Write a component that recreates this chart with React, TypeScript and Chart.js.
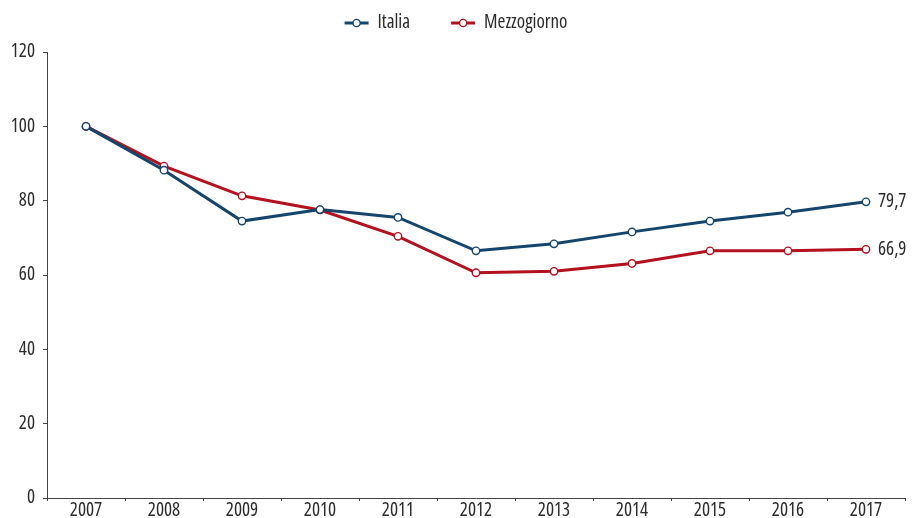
import React, { useEffect, useRef } from "react";
import { Chart, registerables } from "chart.js";

Chart.register(...registerables);

const years = ["2007", "2008", "2009", "2010", "2011", "2012", "2013", "2014", "2015", "2016", "2017"];
const italia = [100, 88.2, 74.5, 77.6, 75.5, 66.5, 68.4, 71.6, 74.5, 76.9, 79.7];
const mezzogiorno = [100, 89.3, 81.3, 77.5, 70.4, 60.6, 61.0, 63.1, 66.5, 66.5, 66.9];
const seriesNames = ["Italia", "Mezzogiorno"];
const endLabels = ["79,7", "66,9"];

const FAMILY = "'Open Sans', 'Roboto Condensed', sans-serif";
const STRETCH = "condensed";
const FS = 19;
const BLUE = "#14456c";
const RED = "#b3111d";
const TEXT = "#2b2b2b";
const AXIS = "#444444";

const endLabelPlugin = {
  id: "endLabels",
  afterDatasetsDraw(chart: any) {
    const ctx = chart.ctx;
    ctx.save();
    ctx.font = `${STRETCH} ${FS}px ${FAMILY}`;
    ctx.fillStyle = TEXT;
    ctx.textAlign = "left";
    ctx.textBaseline = "middle";
    chart.data.datasets.forEach((_ds: any, i: number) => {
      const meta = chart.getDatasetMeta(i);
      const pt = meta.data[meta.data.length - 1];
      if (pt) ctx.fillText(endLabels[i], pt.x + 12, pt.y);
    });
    ctx.restore();
  },
};

const customLegend = {
  id: "customLegend",
  afterDraw(chart: any) {
    const ctx = chart.ctx;
    ctx.save();
    ctx.font = `${STRETCH} ${FS}px ${FAMILY}`;
    ctx.textBaseline = "middle";
    ctx.textAlign = "left";
    const iconW = 24;
    const iconGap = 9;
    const itemGap = 41;
    const widths = seriesNames.map((n) => ctx.measureText(n).width);
    const total = widths.reduce((a, w) => a + iconW + iconGap + w, 0) + itemGap * (seriesNames.length - 1);
    let x = chart.width / 2 - total / 2 - 3;
    const y = 23;
    chart.data.datasets.forEach((ds: any, i: number) => {
      const color = ds.borderColor;
      ctx.strokeStyle = color;
      ctx.lineWidth = 3;
      ctx.beginPath();
      ctx.moveTo(x, y);
      ctx.lineTo(x + iconW, y);
      ctx.stroke();
      ctx.beginPath();
      ctx.arc(x + iconW / 2, y, 3.6, 0, Math.PI * 2);
      ctx.fillStyle = "#ffffff";
      ctx.fill();
      ctx.lineWidth = 1.4;
      ctx.stroke();
      ctx.fillStyle = TEXT;
      ctx.fillText(seriesNames[i], x + iconW + iconGap, y);
      x += iconW + iconGap + widths[i] + itemGap;
    });
    ctx.restore();
  },
};

export default function App() {
  const ref = useRef<HTMLCanvasElement | null>(null);
  useEffect(() => {
    if (!ref.current) return;
    const tickFont = { family: FAMILY, size: FS, weight: STRETCH as any, lineHeight: 1 };
    const chart = new Chart(ref.current, {
      type: "line",
      data: {
        labels: years,
        datasets: [
          {
            label: seriesNames[0],
            data: italia,
            borderColor: BLUE,
            backgroundColor: "#ffffff",
            borderWidth: 3,
            pointRadius: 3.7,
            pointBorderWidth: 1.4,
            pointBackgroundColor: "#ffffff",
            pointBorderColor: BLUE,
            tension: 0,
          },
          {
            label: seriesNames[1],
            data: mezzogiorno,
            borderColor: RED,
            backgroundColor: "#ffffff",
            borderWidth: 3,
            pointRadius: 3.7,
            pointBorderWidth: 1.4,
            pointBackgroundColor: "#ffffff",
            pointBorderColor: RED,
            tension: 0,
          },
        ],
      },
      options: {
        animation: false,
        responsive: true,
        maintainAspectRatio: false,
        layout: { padding: { top: 52, right: 13, left: 0, bottom: 0 } },
        plugins: {
          tooltip: { enabled: false },
          legend: { display: false },
        },
        scales: {
          x: {
            offset: true,
            grid: { display: true, offset: true, drawOnChartArea: false, drawTicks: true, tickLength: 3, color: AXIS },
            border: { display: true, color: AXIS, width: 1 },
            ticks: { color: TEXT, font: tickFont, padding: 0, maxRotation: 0, autoSkip: false },
            afterFit: (scale: any) => {
              scale.height = 20;
            },
          },
          y: {
            min: 0,
            max: 120,
            ticks: { stepSize: 20, color: TEXT, font: tickFont, padding: 8 },
            grid: { display: true, drawOnChartArea: false, drawTicks: true, tickLength: 4, color: AXIS },
            border: { display: true, color: AXIS, width: 1 },
            afterFit: (scale: any) => {
              scale.width = 47;
            },
          },
        },
      },
      plugins: [endLabelPlugin, customLegend],
    });
    return () => chart.destroy();
  }, []);
  return (
    <div style={{ position: "fixed", left: 0, top: 0, width: 918, height: 518, background: "#fff" }}>
      <canvas ref={ref} />
    </div>
  );
}
